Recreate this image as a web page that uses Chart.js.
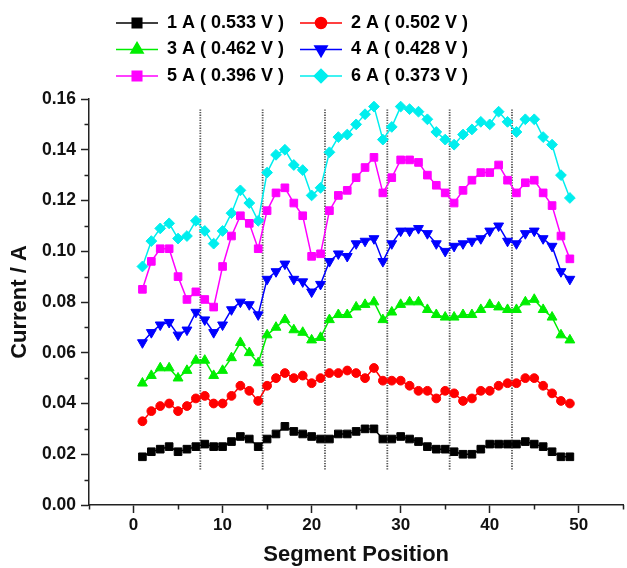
<!DOCTYPE html>
<html>
<head>
<meta charset="utf-8">
<script src="https://cdn.jsdelivr.net/npm/chart.js@4/dist/chart.umd.min.js"></script>
<style>
  html, body { margin: 0; padding: 0; background: #fff; overflow: hidden; }
  #wrap { width: 630px; height: 568px; }
</style>
</head>
<body>
<div id="wrap"><canvas id="c" width="630" height="568"></canvas></div>
<script>
// Segment positions along the cell
const positions = [1, 2, 3, 4, 5, 6, 7, 8, 9, 10, 11, 12, 13, 14, 15, 16, 17, 18, 19, 20,
  21, 22, 23, 24, 25, 26, 27, 28, 29, 30, 31, 32, 33, 34, 35, 36, 37, 38, 39, 40,
  41, 42, 43, 44, 45, 46, 47, 48, 49];

// Segment currents (A) for each total load
const current1A = [0.019, 0.021, 0.022, 0.023, 0.021, 0.022, 0.023, 0.024, 0.023, 0.023,
  0.025, 0.027, 0.026, 0.023, 0.026, 0.028, 0.031, 0.029, 0.028, 0.027,
  0.026, 0.026, 0.028, 0.028, 0.029, 0.030, 0.030, 0.026, 0.026, 0.027,
  0.026, 0.025, 0.023, 0.022, 0.022, 0.021, 0.020, 0.020, 0.022, 0.024,
  0.024, 0.024, 0.024, 0.025, 0.024, 0.023, 0.021, 0.019, 0.019];
const current2A = [0.033, 0.037, 0.039, 0.040, 0.037, 0.039, 0.042, 0.043, 0.040, 0.040,
  0.043, 0.047, 0.045, 0.041, 0.047, 0.050, 0.052, 0.050, 0.051, 0.048,
  0.050, 0.052, 0.052, 0.053, 0.052, 0.050, 0.054, 0.049, 0.049, 0.049,
  0.047, 0.045, 0.045, 0.042, 0.045, 0.044, 0.041, 0.042, 0.045, 0.045,
  0.047, 0.048, 0.048, 0.050, 0.050, 0.047, 0.044, 0.041, 0.040];
const current3A = [0.048, 0.051, 0.054, 0.054, 0.050, 0.053, 0.057, 0.057, 0.051, 0.053,
  0.058, 0.064, 0.060, 0.056, 0.067, 0.070, 0.073, 0.069, 0.068, 0.065,
  0.066, 0.073, 0.075, 0.075, 0.078, 0.079, 0.080, 0.073, 0.076, 0.079,
  0.080, 0.080, 0.077, 0.075, 0.074, 0.074, 0.075, 0.075, 0.077, 0.079,
  0.078, 0.077, 0.077, 0.080, 0.081, 0.077, 0.074, 0.067, 0.065];
const current4A = [0.064, 0.068, 0.071, 0.072, 0.067, 0.069, 0.076, 0.073, 0.068, 0.071,
  0.077, 0.080, 0.079, 0.075, 0.089, 0.092, 0.095, 0.089, 0.088, 0.084,
  0.087, 0.096, 0.099, 0.098, 0.103, 0.104, 0.105, 0.096, 0.103, 0.108,
  0.108, 0.109, 0.107, 0.103, 0.100, 0.102, 0.103, 0.104, 0.105, 0.108,
  0.110, 0.104, 0.103, 0.107, 0.108, 0.105, 0.102, 0.092, 0.089];
const current5A = [0.085, 0.096, 0.101, 0.101, 0.090, 0.081, 0.084, 0.081, 0.078, 0.094,
  0.106, 0.114, 0.111, 0.101, 0.116, 0.123, 0.125, 0.119, 0.114, 0.098,
  0.099, 0.116, 0.122, 0.124, 0.129, 0.133, 0.137, 0.123, 0.129, 0.136,
  0.136, 0.135, 0.130, 0.126, 0.123, 0.119, 0.124, 0.128, 0.131, 0.131,
  0.134, 0.128, 0.123, 0.127, 0.128, 0.123, 0.118, 0.106, 0.097];
const current6A = [0.094, 0.104, 0.109, 0.111, 0.105, 0.106, 0.112, 0.108, 0.103, 0.108,
  0.115, 0.124, 0.119, 0.112, 0.131, 0.138, 0.140, 0.134, 0.132, 0.122,
  0.125, 0.139, 0.145, 0.146, 0.150, 0.154, 0.157, 0.144, 0.149, 0.157,
  0.156, 0.155, 0.152, 0.147, 0.144, 0.142, 0.146, 0.148, 0.151, 0.150,
  0.155, 0.151, 0.147, 0.152, 0.152, 0.145, 0.142, 0.130, 0.121];

const seriesLabels = ['1 A ( 0.533 V )', '2 A ( 0.502 V )', '3 A ( 0.462 V )',
  '4 A ( 0.428 V )', '5 A ( 0.396 V )', '6 A ( 0.373 V )'];

// Boundaries between channel groups and their vertical extent
const boundaryPositions = [7.5, 14.5, 21.5, 28.5, 35.5, 42.5];
const boundarySpan = [0.014, 0.156];

// Axis ticks
const xMajor = [0, 10, 20, 30, 40, 50];
const xMinor = [-5, 5, 15, 25, 35, 45, 55];
const yMajor = [0, 0.02, 0.04, 0.06, 0.08, 0.10, 0.12, 0.14, 0.16];
const yMinor = [0.01, 0.03, 0.05, 0.07, 0.09, 0.11, 0.13, 0.15];

const seriesValues = [current1A, current2A, current3A, current4A, current5A, current6A];
const seriesLook = [
  { color: '#000000', style: 'rect',     radius: 5.4, rotation: 0 },
  { color: '#ff0000', style: 'circle',   radius: 4.4, rotation: 0 },
  { color: '#00ee00', style: 'triangle', radius: 5.7, rotation: 0 },
  { color: '#0000ff', style: 'triangle', radius: 5.7, rotation: 180 },
  { color: '#ff00ff', style: 'rect',     radius: 5.4, rotation: 0 },
  { color: '#00eeee', style: 'rectRot',  radius: 5.4, rotation: 0 }
];

const FONT = '"Liberation Sans", Arial, Helvetica, sans-serif';
const AXIS = '#222222';

const datasets = seriesValues.map((vals, i) => ({
  label: seriesLabels[i],
  data: positions.map((p, k) => ({ x: p, y: vals[k] })),
  borderColor: seriesLook[i].color,
  backgroundColor: seriesLook[i].color,
  borderWidth: 1.5,
  pointStyle: seriesLook[i].style,
  pointRadius: seriesLook[i].radius,
  pointRotation: seriesLook[i].rotation,
  pointBorderWidth: 1,
  pointBorderColor: seriesLook[i].color,
  pointBackgroundColor: seriesLook[i].color,
  tension: 0,
  order: 1
}));

boundaryPositions.forEach(b => {
  datasets.push({
    label: '',
    data: [{ x: b, y: boundarySpan[0] }, { x: b, y: boundarySpan[1] }],
    borderColor: '#555555',
    borderWidth: 1.8,
    borderDash: [1.3, 1.3],
    pointRadius: 0,
    order: 10
  });
});

// Minor tick marks on both axes
const minorTicks = {
  id: 'minorTicks',
  afterDraw(chart) {
    const { ctx, chartArea } = chart;
    const x = chart.scales.x, y = chart.scales.y;
    ctx.save();
    ctx.strokeStyle = AXIS;
    ctx.lineWidth = 1.5;
    ctx.beginPath();
    xMinor.forEach(v => {
      const px = Math.round(x.getPixelForValue(v)) + 0.5;
      ctx.moveTo(px, chartArea.bottom);
      ctx.lineTo(px, chartArea.bottom + 4.5);
    });
    yMinor.forEach(v => {
      const py = Math.round(y.getPixelForValue(v)) + 0.5;
      ctx.moveTo(chartArea.left, py);
      ctx.lineTo(chartArea.left - 4.5, py);
    });
    ctx.stroke();
    ctx.restore();
  }
};

// Two-column key above the plot: line with marker, then label
const seriesKey = {
  id: 'seriesKey',
  afterDraw(chart) {
    const ctx = chart.ctx;
    const cols = [116, 300];
    const rows = [23, 49.5, 76];
    ctx.save();
    ctx.font = 'bold 18px ' + FONT;
    ctx.textBaseline = 'middle';
    ctx.textAlign = 'left';
    seriesLabels.forEach((label, i) => {
      const look = seriesLook[i];
      const x0 = cols[i % 2];
      const yy = rows[Math.floor(i / 2)];
      ctx.strokeStyle = look.color;
      ctx.fillStyle = look.color;
      ctx.lineWidth = 1.5;
      ctx.beginPath();
      ctx.moveTo(x0, yy);
      ctx.lineTo(x0 + 42, yy);
      ctx.stroke();
      Chart.helpers.drawPoint(ctx, {
        pointStyle: look.style,
        radius: look.radius * 1.25,
        rotation: look.rotation,
        borderWidth: 1
      }, x0 + 21, yy);
      ctx.fillStyle = '#000';
      ctx.fillText(label, x0 + 51, yy);
    });
    ctx.restore();
  }
};

new Chart(document.getElementById('c'), {
  type: 'line',
  data: { datasets },
  plugins: [minorTicks, seriesKey],
  options: {
    responsive: false,
    animation: false,
    devicePixelRatio: 1,
    layout: { padding: { top: 99, right: 1, left: 0, bottom: 0 } },
    plugins: { legend: { display: false }, tooltip: { enabled: false } },
    scales: {
      x: {
        type: 'linear',
        min: -5,
        max: 55,
        afterBuildTicks: s => { s.ticks = xMajor.map(v => ({ value: v })); },
        afterFit: s => { s.height = 63; },
        ticks: { color: '#111', padding: 2, font: { family: FONT, size: 17, weight: 'bold' } },
        grid: { drawOnChartArea: false, drawTicks: true, tickLength: 8, tickWidth: 1.5, tickColor: AXIS },
        border: { color: AXIS, width: 1.5 },
        title: { display: true, text: 'Segment Position', color: '#111',
          font: { family: FONT, size: 22, weight: 'bold' }, padding: { top: 0, bottom: 0 } }
      },
      y: {
        type: 'linear',
        min: 0,
        max: 0.16,
        afterBuildTicks: s => { s.ticks = yMajor.map(v => ({ value: v })); },
        afterFit: s => { s.width = 89; },
        ticks: { color: '#111', padding: 5, callback: v => Number(v).toFixed(2),
          font: { family: FONT, size: 17.5, weight: 'bold' } },
        grid: { drawOnChartArea: false, drawTicks: true, tickLength: 8, tickWidth: 1.5, tickColor: AXIS },
        border: { color: AXIS, width: 1.5 },
        title: { display: true, text: 'Current / A', color: '#111',
          font: { family: FONT, size: 22, weight: 'bold' }, padding: { top: 7, bottom: 0 } }
      }
    }
  }
});
</script>
</body>
</html>
